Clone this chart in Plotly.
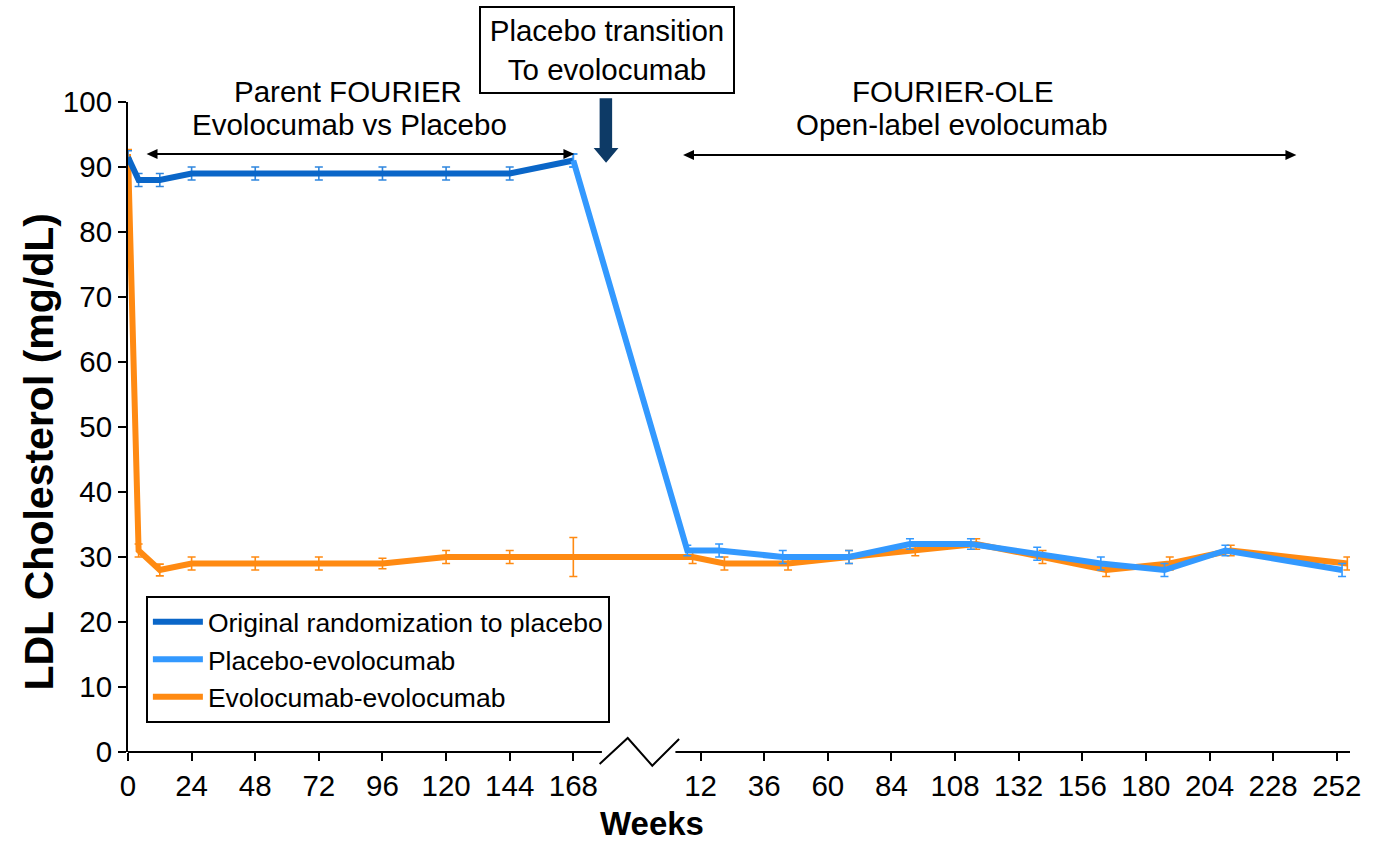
import plotly.graph_objects as go

# ---------------- data ----------------
# Parent FOURIER study weeks
parent_weeks = [0, 4, 12, 24, 48, 72, 96, 120, 144, 168]
placebo_parent = [91.5, 88, 88, 89, 89, 89, 89, 89, 89, 91]
placebo_parent_err = [1, 1, 1, 1, 1, 1, 1, 1, 1, 1]
evo_parent = [92, 31, 28, 29, 29, 29, 29, 30, 30, 30]
evo_parent_err = [0.7, 1, 0.9, 1, 1, 1, 0.8, 1, 1, 3]

# FOURIER-OLE weeks (as positioned on the OLE tick scale)
pbo_evo_start_week = [168]
pbo_evo_start = [91]
pbo_evo_start_err = [1]
ole_weeks_pbo_evo = [7, 19, 43, 68, 91, 114, 139, 163, 187, 210, 254]
pbo_evo_ole = [31, 31, 30, 30, 32, 32, 30.5, 29, 28, 31, 28]
pbo_evo_ole_err = [0.8, 1, 1, 1, 0.8, 0.8, 1, 1, 1, 0.8, 1]
ole_weeks_evo = [9, 21, 45, 68, 93, 116, 141, 165, 189, 212, 256]
evo_ole = [30, 29, 29, 30, 31, 32, 30, 28, 29, 31, 29]
evo_ole_err = [1, 1, 1, 1, 0.8, 0.8, 1, 1, 1, 0.8, 1]

parent_ticks = [0, 24, 48, 72, 96, 120, 144, 168]
ole_ticks = [12, 36, 60, 84, 108, 132, 156, 180, 204, 228, 252]

series_names = ["Original randomization to placebo", "Placebo-evolocumab", "Evolocumab-evolocumab"]

# ---------------- broken axis scale ----------------
BREAK_GAP = 36                      # weeks of axis space used by the break
OLE_OFFSET = parent_ticks[-1] + BREAK_GAP


def ole_pos(weeks):
    return [w + OLE_OFFSET for w in weeks]


X_MAX = OLE_OFFSET + 257

# ---------------- layout geometry ----------------
W, H = 1373, 844
PL, PR, PT, PB = 128, 1358, 102, 752


def px(xp):
    return (xp - PL) / (PR - PL)


def py(yp):
    return (PB - yp) / (PB - PT)


FONT = "Liberation Sans, Arial, sans-serif"
C_DARK = "#0A66C8"
C_LIGHT = "#3399FF"
C_ORANGE = "#FF8A12"
C_NAVY = "#0D3A66"

fig = go.Figure()

# Evolocumab-evolocumab (drawn first, underneath)
fig.add_trace(go.Scatter(
    x=parent_weeks + ole_pos(ole_weeks_evo),
    y=evo_parent + evo_ole,
    mode="lines",
    name=series_names[2],
    line=dict(color=C_ORANGE, width=6),
    error_y=dict(type="data", array=evo_parent_err + evo_ole_err,
                 color=C_ORANGE, thickness=1.6, width=4),
    legendgroup="g3", legendrank=3,
))

# Original randomization to placebo
fig.add_trace(go.Scatter(
    x=parent_weeks,
    y=placebo_parent,
    mode="lines",
    name=series_names[0],
    line=dict(color=C_DARK, width=6),
    error_y=dict(type="data", array=placebo_parent_err,
                 color="#2F86DE", thickness=1.6, width=4),
    legendgroup="g1", legendrank=1,
))

# Placebo-evolocumab
fig.add_trace(go.Scatter(
    x=pbo_evo_start_week + ole_pos(ole_weeks_pbo_evo),
    y=pbo_evo_start + pbo_evo_ole,
    mode="lines",
    name=series_names[1],
    line=dict(color=C_LIGHT, width=6),
    error_y=dict(type="data", array=pbo_evo_start_err + pbo_evo_ole_err,
                 color=C_LIGHT, thickness=1.6, width=4),
    legendgroup="g2", legendrank=2,
))

tickvals = parent_ticks + ole_pos(ole_ticks)
ticktext = [str(t) for t in parent_ticks] + [str(t) for t in ole_ticks]

shapes = []
# x-axis line with break
shapes.append(dict(type="line", xref="paper", yref="paper",
                   x0=0, x1=px(605), y0=0, y1=0,
                   line=dict(color="black", width=2)))
shapes.append(dict(type="path", xref="paper", yref="paper",
                   path=f"M {px(602.7)} {py(764)} L {px(631)} {py(738)} L {px(655.7)} {py(765.7)} L {px(682.7)} {py(739)}",
                   line=dict(color="black", width=2)))
shapes.append(dict(type="line", xref="paper", yref="paper",
                   x0=px(679), x1=1, y0=0, y1=0,
                   line=dict(color="black", width=2)))

# navy transition arrow
shapes.append(dict(
    type="path", xref="paper", yref="paper",
    path=(f"M {px(602.7)} {py(98.3)} L {px(615.3)} {py(98.3)} L {px(615.3)} {py(148)} "
          f"L {px(621.7)} {py(148)} L {px(609.2)} {py(162.7)} L {px(596.7)} {py(148)} "
          f"L {px(602.7)} {py(148)} Z"),
    fillcolor=C_NAVY, line=dict(color=C_NAVY, width=0)))


def double_arrow(x0, x1, yp):
    out = [dict(type="line", xref="paper", yref="paper",
                x0=px(x0 + 6), x1=px(x1 - 6), y0=py(yp), y1=py(yp),
                line=dict(color="black", width=2))]
    out.append(dict(type="path", xref="paper", yref="paper",
                    path=f"M {px(x0)} {py(yp)} L {px(x0 + 11)} {py(yp - 5)} L {px(x0 + 11)} {py(yp + 5)} Z",
                    fillcolor="black", line=dict(color="black", width=0)))
    out.append(dict(type="path", xref="paper", yref="paper",
                    path=f"M {px(x1)} {py(yp)} L {px(x1 - 11)} {py(yp - 5)} L {px(x1 - 11)} {py(yp + 5)} Z",
                    fillcolor="black", line=dict(color="black", width=0)))
    return out


shapes += double_arrow(146.7, 577.3, 154)
shapes += double_arrow(686.7, 1304, 155)

annotations = []


def label(text, xp, yp, size=29.5, bold=False, angle=0, yanchor="middle"):
    return dict(text=text, xref="paper", yref="paper", x=px(xp), y=py(yp),
                xanchor="center", yanchor=yanchor, showarrow=False,
                textangle=angle, borderpad=0,
                font=dict(family=FONT, size=size, color="black",
                          weight="bold" if bold else "normal"))


annotations.append(label("Parent FOURIER", 349, 91))
annotations.append(label("Evolocumab vs Placebo", 351, 125))
annotations.append(label("FOURIER-OLE", 958, 91))
annotations.append(label("Open-label evolocumab", 957, 125))
box = label("Placebo transition<br>To evolocumab", 609.7, 50)
box.update(bordercolor="black", borderwidth=2, borderpad=0, width=252, height=84,
           bgcolor="white")
annotations.append(box)
annotations.append(label("Weeks", 655, 843, size=33, bold=True, yanchor="bottom"))
annotations.append(label("LDL Cholesterol (mg/dL)", 38, 452, size=41, bold=True, angle=-90))

fig.update_layout(
    width=W, height=H, autosize=False,
    margin=dict(l=PL, r=W - PR, t=PT, b=H - PB, pad=0),
    paper_bgcolor="white", plot_bgcolor="white",
    font=dict(family=FONT, size=29, color="black"),
    showlegend=True,
    legend=dict(x=px(146), y=py(596), xanchor="left", yanchor="top",
                bordercolor="black", borderwidth=2, bgcolor="white",
                font=dict(family=FONT, size=26.5, color="black"),
                itemwidth=50,
                tracegroupgap=8, traceorder="normal"),
    xaxis=dict(range=[0, X_MAX], tickvals=tickvals, ticktext=ticktext,
               showline=False, showgrid=False, zeroline=False,
               ticks="outside", ticklen=8, tickwidth=2, tickcolor="black",
               tickfont=dict(family=FONT, size=29.5, color="black")),
    yaxis=dict(range=[0, 100], dtick=10, showline=True, linewidth=2,
               linecolor="black", showgrid=False, zeroline=False,
               ticks="outside", ticklen=8, tickwidth=2, tickcolor="black",
               tickfont=dict(family=FONT, size=29.5, color="black")),
    shapes=shapes,
    annotations=annotations,
)

fig.write_html("out.html")
